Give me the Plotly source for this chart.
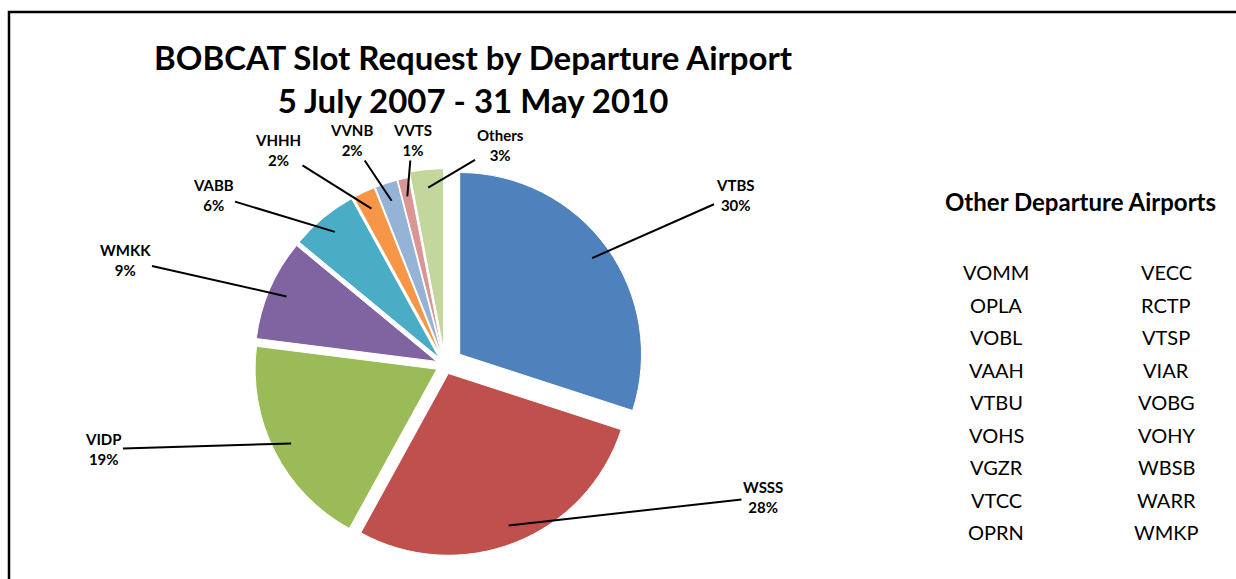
import numpy as np
import plotly.graph_objects as go

airports = ["VTBS", "WSSS", "VIDP", "WMKK", "VABB", "VHHH", "VVNB", "VVTS", "Others"]
shares = [30, 28, 19, 9, 6, 2, 2, 1, 3]
colors = ["#4F81BD", "#C0504D", "#9BBB59", "#8064A2", "#4BACC6",
          "#F79646", "#95B3D7", "#D99694", "#C3D69B"]
pulls = [0.1, 0.05, 0.05, 0.05, 0.05, 0.05, 0.05, 0.05, 0.08]
# label text centres (pixels)
label_x = [735, 763, 103, 125, 213, 278, 351, 412, 500]
label_y = [195, 497, 449, 260, 195, 150, 140, 140, 145]

other_col1 = ["VOMM", "OPLA", "VOBL", "VAAH", "VTBU", "VOHS", "VGZR", "VTCC", "OPRN"]
other_col2 = ["VECC", "RCTP", "VTSP", "VIAR", "VOBG", "VOHY", "WBSB", "WARR", "WMKP"]

W, H = 1236, 579
# pie domain in pixels
px0, px1, py0, py1 = 245, 645, 165, 565
cx, cy = (px0 + px1) / 2, (py0 + py1) / 2
radius = min(px1 - px0, py1 - py0) / 2 / (1 + max(pulls))

fig = go.Figure()
fig.add_trace(go.Pie(
    labels=airports,
    values=shares,
    sort=False,
    direction="clockwise",
    rotation=0,
    pull=pulls,
    marker=dict(colors=colors, line=dict(color="white", width=1)),
    textinfo="none",
    hoverinfo="label+percent",
    automargin=False,
    domain=dict(x=[px0 / W, px1 / W], y=[1 - py1 / H, 1 - py0 / H]),
    showlegend=False,
))

# leader-line tips from slice mid-angles
vals = np.array(shares, dtype=float)
mid = (np.cumsum(vals) - vals / 2) / vals.sum() * 2 * np.pi

annotations = []
for i, name in enumerate(airports):
    rr = radius * (0.9 + pulls[i])
    tx = cx + rr * np.sin(mid[i])
    ty = cy - rr * np.cos(mid[i])
    annotations.append(dict(
        x=tx, y=ty, xref="x", yref="y",
        ax=label_x[i], ay=label_y[i], axref="x", ayref="y",
        text=f"<b>{name}<br>{shares[i]}%</b>",
        showarrow=True, arrowhead=0, arrowwidth=2, arrowcolor="black",
        font=dict(family="Lato", size=15, color="black"), align="center",
        standoff=0, startstandoff=0,
    ))

annotations.append(dict(
    text="<b>BOBCAT Slot Request by Departure Airport<br>5 July 2007 - 31 May 2010</b>",
    x=473, y=78, xref="x", yref="y", xanchor="center", yanchor="middle",
    showarrow=False, font=dict(family="Lato", size=33, color="black"), align="center"))
annotations.append(dict(
    text="<b>Other Departure Airports</b>",
    x=1080, y=201, xref="x", yref="y", xanchor="center", yanchor="middle",
    showarrow=False, font=dict(family="Lato", size=24, color="black")))
for i, (a, b) in enumerate(zip(other_col1, other_col2)):
    yy = 272 + i * 32.5
    for txt, xx in ((a, 996), (b, 1166)):
        annotations.append(dict(text=txt, x=xx, y=yy, xref="x", yref="y",
                                xanchor="center", yanchor="middle", showarrow=False,
                                font=dict(family="Lato", size=20, color="black")))

fig.update_layout(
    width=W, height=H,
    margin=dict(l=0, r=0, t=0, b=0, pad=0, autoexpand=False),
    paper_bgcolor="white",
    plot_bgcolor="rgba(0,0,0,0)",
    showlegend=False,
    xaxis=dict(range=[0, W], visible=False, domain=[0, 1], fixedrange=True),
    yaxis=dict(range=[H, 0], visible=False, domain=[0, 1], fixedrange=True),
    annotations=annotations,
    shapes=[dict(type="rect", xref="x", yref="y",
                 x0=9, x1=W + 10, y0=12, y1=H + 10,
                 line=dict(color="black", width=2.5))],
)

fig.write_html("out.html")
